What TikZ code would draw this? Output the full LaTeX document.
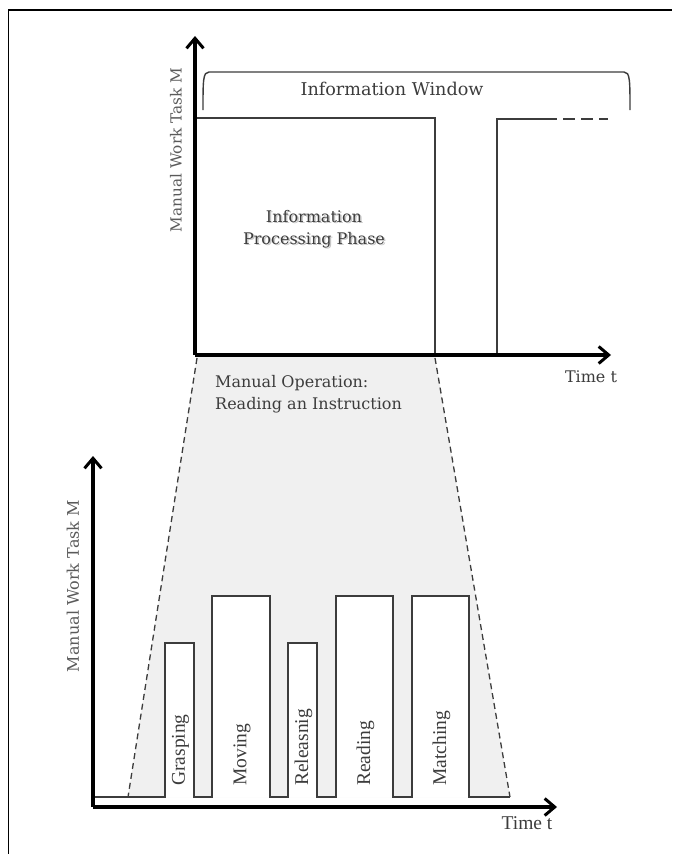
\documentclass[tikz,border=0pt]{standalone}
\usepackage{fontspec}
\setmainfont{Liberation Serif}
\newfontfamily\slabfont{DejaVu Serif}
\usetikzlibrary{arrows.meta}
\definecolor{pulsegray}{HTML}{3C3C3C}
\definecolor{zoomgray}{HTML}{F0F0F0}
\definecolor{labelgray}{HTML}{5A5A5A}
\tikzset{
  axis/.style={line width=3.2pt,-{Straight Barb[length=10pt,width=17pt,line width=3pt]}},
  pulse/.style={line width=1.8pt,draw=pulsegray,line join=miter},
  zoomline/.style={line width=1.3pt,dash pattern=on 6pt off 4pt,draw=pulsegray},
  toptext/.style={inner sep=0pt,text=pulsegray,font=\slabfont\fontsize{16}{22}\selectfont},
  lowtext/.style={inner sep=0pt,text=pulsegray,font=\fontsize{19.5}{22}\selectfont}
}
\begin{document}
\begin{tikzpicture}[x=1pt,y=-1pt]
\useasboundingbox (0,0) rectangle (672,854);
\draw[line width=1.5pt] (8.5,854) -- (8.5,10) -- (672,10);
% zoom region
\fill[zoomgray] (197,357) -- (435,357) -- (510,797) -- (128,797) -- cycle;
\draw[zoomline] (197,358) -- (128,797);
\draw[zoomline] (435,358) -- (510,797);
% upper chart
\coordinate (otop) at (195,355);
\draw[pulse] (195,118) -- (435,118) -- (435,355);
\draw[pulse] (497,353) -- (497,119) -- (545,119);
\draw[pulse,dash pattern=on 12pt off 6pt] (545,119) -- (608,119);
\draw[pulse,line width=1.4pt] (203,110) .. controls (203,80) and (203,72) .. (209,72)
  -- (624,72) .. controls (630,72) and (630,80) .. (630,110);
\draw[axis] (otop) -- (195,36);
\draw[axis] (otop) -- (611,355);
\node[toptext,text=labelgray,rotate=90,font=\slabfont\fontsize{15.3}{20}\selectfont] (mtop) at (176,150) {Manual Work Task M};
\node[toptext,font=\slabfont\fontsize{17.6}{22}\selectfont] (window) at (392,89) {Information Window};
\node[toptext,text=gray!45,align=center] at (315.5,230.5) {Information\\Processing Phase};
\node[toptext,align=center] (phase) at (314,229) {Information\\Processing Phase};
\node[toptext] (ttop) at (591,377) {Time t};
\node[toptext,anchor=west,align=left] (op) at (215,394) {Manual Operation:\\Reading an Instruction};
% lower chart
\coordinate (olow) at (93,807);
\foreach \a/\b/\h in {165/194/643,212/270/596,288/317/643,336/393/596,412/469/596}
  \fill[white] (\a,797) rectangle (\b,\h);
\draw[pulse] (93,797)
  foreach \a/\b/\h in {165/194/643,212/270/596,288/317/643,336/393/596,412/469/596}
  { -- (\a,797) -- (\a,\h) -- (\b,\h) -- (\b,797) } -- (510,797);
\foreach \a/\b/\name in {165/194/Grasping,212/270/Moving,288/317/Releasnig,336/393/Reading,412/469/Matching}
  \node[lowtext,rotate=90,anchor=west] at ({(\a+\b)/2+1},786) {\name};
\draw[axis] (olow) -- (93,456);
\draw[axis] (olow) -- (557,807);
\node[toptext,text=labelgray,rotate=90] (mlow) at (73,586) {Manual Work Task M};
\node[lowtext] (tlow) at (527,823) {Time t};
\end{tikzpicture}
\end{document}
